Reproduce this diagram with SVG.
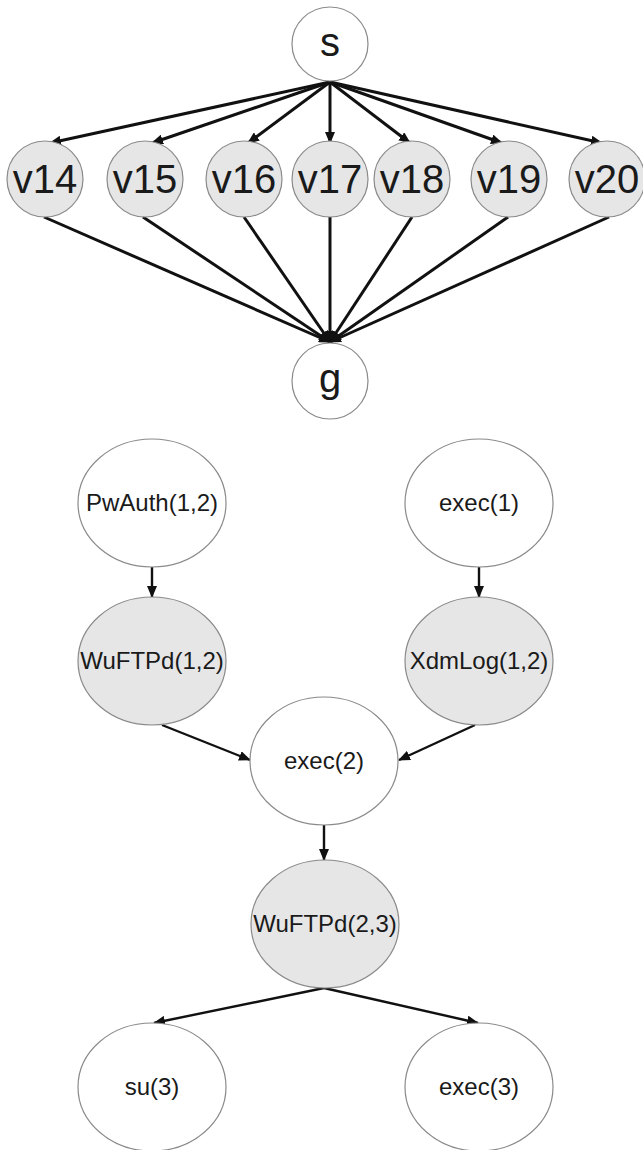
<svg xmlns="http://www.w3.org/2000/svg" width="643" height="1150" viewBox="0 0 643 1150">
  <style>
    .node { stroke: #8a8a8a; stroke-width: 1.2; }
    .plain { fill: #ffffff; }
    .shaded { fill: #e6e6e6; }
    .big { font-family: "Liberation Sans", Arial, sans-serif; font-size: 40px; fill: #1a1a1a; text-anchor: middle; }
    .small { font-family: "Liberation Sans", Arial, sans-serif; font-size: 24px; fill: #1a1a1a; text-anchor: middle; }
    .edge { stroke: #111111; fill: none; marker-end: url(#arrow); }
    .thick { stroke-width: 3; }
    .thin { stroke-width: 2.4; }
  </style>
  <defs>
    <marker id="arrow" markerUnits="userSpaceOnUse" markerWidth="12" markerHeight="10" refX="11" refY="5" orient="auto">
      <path d="M0,0 L12,5 L0,10 z" fill="#111111"/>
    </marker>
  </defs>
  <rect width="643" height="1150" fill="#ffffff"/>

  <g id="connectors">
    <!-- s to v14..v20 -->
    <line class="edge thick" x1="330" y1="82" x2="50" y2="143"/>
    <line class="edge thick" x1="330" y1="82" x2="152" y2="143"/>
    <line class="edge thick" x1="330" y1="82" x2="248" y2="143"/>
    <line class="edge thick" x1="330" y1="82" x2="330" y2="143"/>
    <line class="edge thick" x1="330" y1="82" x2="410" y2="143"/>
    <line class="edge thick" x1="330" y1="82" x2="502" y2="143"/>
    <line class="edge thick" x1="330" y1="82" x2="602" y2="143"/>
    <!-- v14..v20 to g -->
    <line class="edge thick" x1="44" y1="217" x2="330" y2="342"/>
    <line class="edge thick" x1="143" y1="217" x2="330" y2="342"/>
    <line class="edge thick" x1="244" y1="217" x2="330" y2="342"/>
    <line class="edge thick" x1="330" y1="217" x2="330" y2="342"/>
    <line class="edge thick" x1="412" y1="217" x2="330" y2="342"/>
    <line class="edge thick" x1="508" y1="217" x2="330" y2="342"/>
    <line class="edge thick" x1="609" y1="217" x2="330" y2="342"/>
    <!-- lower graph -->
    <line class="edge thin" x1="152" y1="567" x2="152" y2="597"/>
    <line class="edge thin" x1="479" y1="567" x2="479" y2="597"/>
    <line class="edge thin" x1="162" y1="725" x2="250" y2="760"/>
    <line class="edge thin" x1="475" y1="725" x2="399" y2="760"/>
    <line class="edge thin" x1="324" y1="825" x2="324" y2="860"/>
    <line class="edge thin" x1="324" y1="988" x2="154" y2="1023"/>
    <line class="edge thin" x1="324" y1="988" x2="478" y2="1023"/>
  </g>

  <g id="s"><ellipse class="node plain" cx="330" cy="44" rx="38" ry="37"/><text class="big" x="330" y="56">s</text></g>
  <g id="v14"><ellipse class="node shaded" cx="45" cy="179" rx="38" ry="38"/><text class="big" x="45" y="193">v14</text></g>
  <g id="v15"><ellipse class="node shaded" cx="145" cy="179" rx="38" ry="38"/><text class="big" x="145" y="193">v15</text></g>
  <g id="v16"><ellipse class="node shaded" cx="244" cy="179" rx="38" ry="38"/><text class="big" x="244" y="193">v16</text></g>
  <g id="v17"><ellipse class="node shaded" cx="330" cy="179" rx="38" ry="38"/><text class="big" x="330" y="193">v17</text></g>
  <g id="v18"><ellipse class="node shaded" cx="412" cy="179" rx="38" ry="38"/><text class="big" x="412" y="193">v18</text></g>
  <g id="v19"><ellipse class="node shaded" cx="509" cy="179" rx="38" ry="38"/><text class="big" x="509" y="193">v19</text></g>
  <g id="v20"><ellipse class="node shaded" cx="607" cy="179" rx="38" ry="38"/><text class="big" x="607" y="193">v20</text></g>
  <g id="g"><ellipse class="node plain" cx="330" cy="381" rx="38" ry="38"/><text class="big" x="330" y="392">g</text></g>

  <g id="pwauth12"><ellipse class="node plain" cx="152" cy="503" rx="74" ry="64"/><text class="small" x="152" y="511">PwAuth(1,2)</text></g>
  <g id="exec1"><ellipse class="node plain" cx="479" cy="503" rx="74" ry="64"/><text class="small" x="479" y="511">exec(1)</text></g>
  <g id="wuftpd12"><ellipse class="node shaded" cx="152" cy="661" rx="74" ry="64"/><text class="small" x="152" y="669">WuFTPd(1,2)</text></g>
  <g id="xdmlog12"><ellipse class="node shaded" cx="479" cy="661" rx="74" ry="64"/><text class="small" x="479" y="669">XdmLog(1,2)</text></g>
  <g id="exec2"><ellipse class="node plain" cx="324" cy="761" rx="74" ry="64"/><text class="small" x="324" y="769">exec(2)</text></g>
  <g id="wuftpd23"><ellipse class="node shaded" cx="325" cy="924" rx="74" ry="64"/><text class="small" x="325" y="932">WuFTPd(2,3)</text></g>
  <g id="su3"><ellipse class="node plain" cx="152" cy="1087" rx="74" ry="64"/><text class="small" x="152" y="1095">su(3)</text></g>
  <g id="exec3"><ellipse class="node plain" cx="479" cy="1087" rx="74" ry="64"/><text class="small" x="479" y="1095">exec(3)</text></g>
</svg>
